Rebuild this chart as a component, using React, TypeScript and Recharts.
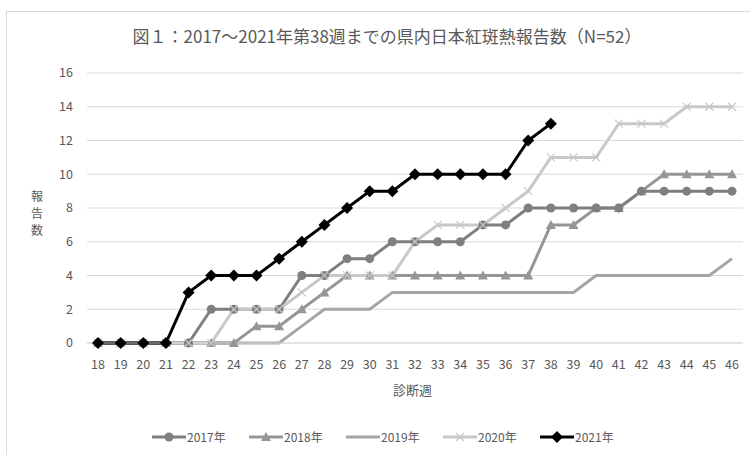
import { LineChart, Line, XAxis, YAxis, CartesianGrid } from 'recharts';

const weeks = [18, 19, 20, 21, 22, 23, 24, 25, 26, 27, 28, 29, 30, 31, 32, 33, 34, 35, 36, 37, 38, 39, 40, 41, 42, 43, 44, 45, 46];

const y2017 = [0, 0, 0, 0, 0, 2, 2, 2, 2, 4, 4, 5, 5, 6, 6, 6, 6, 7, 7, 8, 8, 8, 8, 8, 9, 9, 9, 9, 9];
const y2018 = [0, 0, 0, 0, 0, 0, 0, 1, 1, 2, 3, 4, 4, 4, 4, 4, 4, 4, 4, 4, 7, 7, 8, 8, 9, 10, 10, 10, 10];
const y2019 = [0, 0, 0, 0, 0, 0, 0, 0, 0, 1, 2, 2, 2, 3, 3, 3, 3, 3, 3, 3, 3, 3, 4, 4, 4, 4, 4, 4, 5];
const y2020 = [0, 0, 0, 0, 0, 0, 2, 2, 2, 3, 4, 4, 4, 4, 6, 7, 7, 7, 8, 9, 11, 11, 11, 13, 13, 13, 14, 14, 14];
const y2021 = [0, 0, 0, 0, 3, 4, 4, 4, 5, 6, 7, 8, 9, 9, 10, 10, 10, 10, 10, 12, 13];

const yTicks = [0, 2, 4, 6, 8, 10, 12, 14, 16];

const data = weeks.map((w, i) => ({
  week: String(w),
  a: y2017[i],
  b: y2018[i],
  c: y2019[i],
  d: y2020[i],
  e: i < y2021.length ? y2021[i] : null,
}));

const FONT = "'Noto Sans CJK JP', 'Noto Sans', sans-serif";
const TEXT = '#595959';

const C17 = '#7f7f7f';
const C18 = '#969696';
const C19 = '#a6a6a6';
const C20 = '#c8c8c8';
const C21 = '#000000';

const circleDot = (p: any) => p.value == null ? <g key={p.key} /> :
  <circle key={p.key} cx={p.cx} cy={p.cy} r={4.5} fill={C17} />;
const triDot = (p: any) => p.value == null ? <g key={p.key} /> :
  <path key={p.key} d={`M${p.cx},${p.cy - 5}L${p.cx + 5},${p.cy + 4}L${p.cx - 5},${p.cy + 4}Z`} fill={C18} />;
const crossDot = (p: any) => p.value == null ? <g key={p.key} /> :
  <path key={p.key} d={`M${p.cx - 4},${p.cy - 4}L${p.cx + 4},${p.cy + 4}M${p.cx + 4},${p.cy - 4}L${p.cx - 4},${p.cy + 4}`} stroke={C20} strokeWidth={1.2} fill="none" />;
const diaDot = (p: any) => p.value == null ? <g key={p.key} /> :
  <path key={p.key} d={`M${p.cx},${p.cy - 6}L${p.cx + 6},${p.cy}L${p.cx},${p.cy + 6}L${p.cx - 6},${p.cy}Z`} fill={C21} />;

const legendItems = [
  { label: '2017年', color: C17, mark: 'circle' },
  { label: '2018年', color: C18, mark: 'tri' },
  { label: '2019年', color: C19, mark: 'none' },
  { label: '2020年', color: C20, mark: 'cross' },
  { label: '2021年', color: C21, mark: 'dia' },
];

function Icon({ color, mark }: { color: string; mark: string }) {
  return (
    <svg width={34} height={12} style={{ display: 'block' }}>
      <line x1={0} y1={6} x2={34} y2={6} stroke={color} strokeWidth={3} />
      {mark === 'circle' && <circle cx={17} cy={6} r={4.5} fill={color} />}
      {mark === 'tri' && <path d="M17,1L22,10L12,10Z" fill={color} />}
      {mark === 'cross' && <path d="M13,2L21,10M21,2L13,10" stroke={color} strokeWidth={1.2} />}
      {mark === 'dia' && <path d="M17,0L23,6L17,12L11,6Z" fill={color} />}
    </svg>
  );
}

const yLabelChars = ['報', '告', '数'];

export default function App() {
  return (
    <div style={{ position: 'absolute', left: 0, top: 0, width: 750, height: 455, background: '#fff', fontFamily: FONT, overflow: 'hidden' }}>
      <div style={{ position: 'absolute', left: 6, top: 11, width: 800, height: 500, borderLeft: '1px solid #d9d9d9', borderTop: '1px solid #d9d9d9' }} />
      <div style={{ position: 'absolute', left: 0, top: 23, width: 774, textAlign: 'center', fontSize: 17, color: TEXT }}>
        図１：2017～2021年第38週までの県内日本紅斑熱報告数（N=52）
      </div>
      {yLabelChars.map((ch, i) => (
        <div key={ch} style={{ position: 'absolute', left: 30, top: 189 + i * 17, width: 14, height: 14, fontSize: 12, lineHeight: '14px', color: TEXT, textAlign: 'center' }}>
          {ch}
        </div>
      ))}
      <div style={{ position: 'absolute', left: 0, top: 380, width: 825, textAlign: 'center', fontSize: 13, color: TEXT }}>
        診断週
      </div>
      <div style={{ position: 'absolute', left: 0, top: 0 }}>
        <LineChart width={750} height={455} data={data} margin={{ top: 73, right: 7, bottom: 82, left: 0 }}>
          <CartesianGrid vertical={false} stroke="#d9d9d9" />
          <XAxis
            dataKey="week"
            height={30}
            padding={{ left: 11, right: 11 }}
            axisLine={{ stroke: '#d9d9d9' }}
            tickLine={false}
            interval={0}
            tick={{ fill: TEXT, fontSize: 12.5, fontFamily: FONT }}
            tickMargin={11}
          />
          <YAxis
            width={87}
            domain={[0, 16]}
            ticks={yTicks}
            axisLine={false}
            tickLine={false}
            tick={{ fill: TEXT, fontSize: 12.5, fontFamily: FONT }}
            tickMargin={8}
          />
          <Line dataKey="c" stroke={C19} strokeWidth={3} dot={false} isAnimationActive={false} />
          <Line dataKey="b" stroke={C18} strokeWidth={3} dot={triDot} isAnimationActive={false} />
          <Line dataKey="a" stroke={C17} strokeWidth={3} dot={circleDot} isAnimationActive={false} />
          <Line dataKey="d" stroke={C20} strokeWidth={3} dot={crossDot} isAnimationActive={false} />
          <Line dataKey="e" stroke={C21} strokeWidth={3} dot={diaDot} isAnimationActive={false} />
        </LineChart>
      </div>
      <div style={{ position: 'absolute', left: 152, top: 428, display: 'flex', fontSize: 12, color: TEXT }}>
        {legendItems.map((it) => (
          <div key={it.label} style={{ display: 'flex', alignItems: 'center', width: 97 }}>
            <Icon color={it.color} mark={it.mark} />
            <span style={{ marginLeft: 1 }}>{it.label}</span>
          </div>
        ))}
      </div>
    </div>
  );
}
